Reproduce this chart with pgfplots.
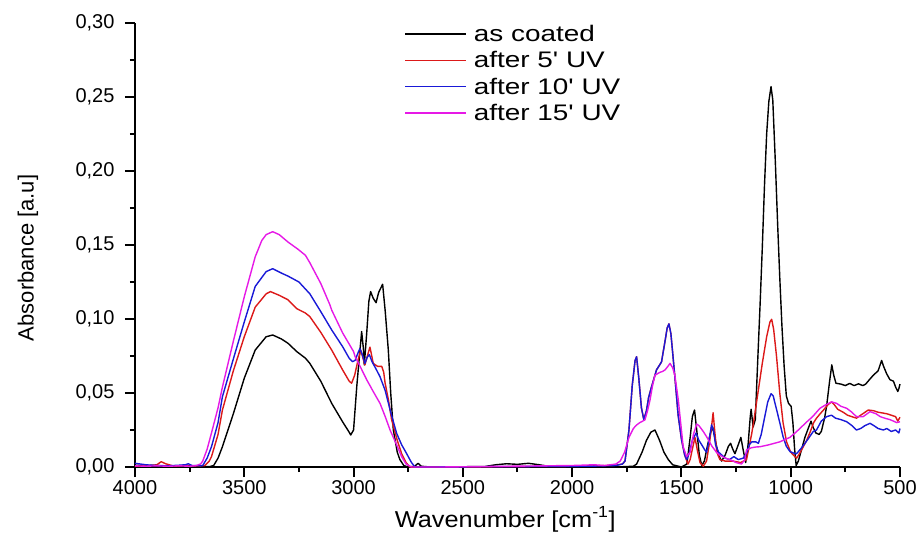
\documentclass[border=0pt]{standalone}
\usepackage{fontspec}
\setmainfont{Liberation Sans}
\newfontfamily\legfont{Liberation Sans}[FakeStretch=1.24, Ligatures=TeXOff]
\newfontfamily\labfont{Liberation Sans}[FakeStretch=1.1]
\usepackage{pgfplots}
\pgfplotsset{compat=1.18}

\definecolor{specred}{RGB}{220,25,25}
\definecolor{specblue}{RGB}{25,25,215}
\definecolor{specmag}{RGB}{230,25,230}

% FTIR spectra: wavenumber (cm^-1) vs absorbance
\pgfplotstableread{
x y
4000 0.0012
3950 0.0008
3900 0.0010
3850 0.0006
3800 0.0008
3750 0.0010
3700 0.0005
3660 0.0002
3640 0.001
3620 0.006
3600 0.0137
3550 0.036
3500 0.060
3450 0.079
3400 0.088
3370 0.0892
3330 0.0865
3300 0.0836
3260 0.078
3220 0.0735
3200 0.070
3150 0.058
3100 0.043
3050 0.0305
3020 0.0235
3013 0.0216
3000 0.025
2985 0.055
2970 0.080
2963 0.0915
2955 0.080
2951 0.069
2940 0.09
2930 0.112
2922 0.1185
2910 0.114
2897 0.111
2885 0.118
2867 0.1235
2855 0.105
2841 0.079
2830 0.050
2818 0.025
2800 0.010
2788 0.005
2770 0.001
2751 0.0
2720 0.0005
2705 0.0025
2690 0.0005
2650 0
2400 0.0003
2350 0.0015
2300 0.0022
2250 0.0018
2200 0.0025
2150 0.0015
2100 0.0003
2000 0.0
1800 0
1720 0.0005
1705 0.002
1680 0.010
1660 0.018
1640 0.0235
1621 0.025
1600 0.018
1580 0.010
1560 0.005
1540 0.0015
1500 0.0
1475 0.002
1460 0.020
1450 0.034
1440 0.0385
1430 0.025
1418 0.008
1407 0.001
1395 0.004
1380 0.015
1365 0.024
1357 0.027
1345 0.018
1330 0.008
1316 0.004
1300 0.008
1285 0.014
1275 0.016
1265 0.012
1255 0.009
1240 0.015
1228 0.020
1218 0.012
1206 0.003
1195 0.015
1185 0.034
1181 0.039
1172 0.027
1162 0.032
1150 0.075
1140 0.11
1130 0.148
1120 0.19
1110 0.225
1100 0.247
1090 0.257
1082 0.248
1070 0.205
1060 0.165
1050 0.128
1040 0.095
1030 0.068
1020 0.048
1010 0.043
998 0.041
990 0.030
982 0.012
975 0.001
965 0.004
950 0.012
935 0.020
920 0.026
907 0.031
898 0.027
885 0.023
870 0.022
860 0.024
845 0.033
835 0.042
822 0.058
812 0.069
803 0.062
793 0.0566
770 0.056
750 0.055
730 0.0565
710 0.055
690 0.0562
670 0.055
657 0.056
640 0.059
622 0.062
600 0.065
584 0.072
575 0.068
561 0.063
546 0.059
530 0.058
520 0.054
510 0.051
505 0.053
500 0.056
}\coated

\pgfplotstableread{
x y
4000 0.0005
3950 0.0008
3900 0.0015
3880 0.0036
3860 0.0022
3820 0.0005
3780 0.0010
3740 0.0005
3700 0.0008
3680 0.001
3660 0.004
3650 0.007
3620 0.022
3600 0.0385
3550 0.065
3500 0.088
3450 0.108
3400 0.117
3380 0.1185
3340 0.116
3300 0.113
3260 0.107
3220 0.104
3200 0.1016
3150 0.091
3100 0.079
3050 0.0656
3020 0.058
3009 0.0566
2995 0.062
2980 0.072
2967 0.079
2958 0.074
2948 0.069
2935 0.076
2925 0.081
2918 0.076
2910 0.070
2890 0.068
2871 0.068
2862 0.064
2856 0.057
2840 0.045
2826 0.032
2800 0.018
2780 0.009
2760 0.003
2742 0.0
2700 0.0
2500 0
2000 0.0005
1900 0.0008
1800 0.0012
1770 0.002
1758 0.004
1740 0.025
1725 0.055
1712 0.072
1705 0.0745
1695 0.060
1683 0.040
1672 0.032
1660 0.038
1650 0.047
1637 0.054
1614 0.0656
1591 0.071
1575 0.085
1565 0.094
1557 0.0967
1548 0.090
1530 0.061
1515 0.035
1499 0.018
1485 0.008
1470 0.002
1460 0.005
1450 0.012
1438 0.020
1428 0.012
1415 0.003
1400 0.0005
1385 0.004
1370 0.018
1360 0.030
1355 0.0367
1348 0.025
1338 0.010
1324 0.005
1300 0.004
1263 0.004
1230 0.003
1202 0.005
1190 0.014
1178 0.0228
1165 0.035
1150 0.050
1130 0.070
1110 0.088
1095 0.098
1087 0.0998
1078 0.093
1065 0.075
1050 0.050
1035 0.030
1019 0.017
1000 0.010
980 0.007
973 0.006
960 0.009
945 0.013
927 0.018
910 0.024
895 0.030
882 0.033
865 0.036
850 0.0385
830 0.042
813 0.044
800 0.042
785 0.039
760 0.037
740 0.035
720 0.034
699 0.033
680 0.035
660 0.037
645 0.0385
620 0.038
600 0.037
580 0.0365
561 0.036
540 0.035
520 0.034
510 0.031
500 0.0336
}\uvfive

\pgfplotstableread{
x y
4000 0.0025
3950 0.0015
3900 0.001
3850 0.0008
3800 0.0012
3770 0.0015
3756 0.0022
3740 0.001
3700 0.0008
3690 0.001
3670 0.006
3650 0.0137
3620 0.030
3600 0.0475
3550 0.073
3500 0.098
3450 0.122
3400 0.132
3370 0.134
3330 0.131
3300 0.129
3250 0.125
3200 0.117
3150 0.105
3100 0.0926
3050 0.0813
3020 0.0735
3005 0.0712
2993 0.072
2980 0.077
2971 0.080
2960 0.076
2948 0.070
2938 0.074
2928 0.076
2915 0.071
2900 0.067
2879 0.061
2856 0.052
2830 0.037
2803 0.0228
2780 0.015
2757 0.009
2735 0.003
2719 0.0
2650 0.0
2400 0.0002
2000 0.0004
1900 0.0006
1800 0.001
1770 0.002
1758 0.004
1740 0.025
1725 0.055
1712 0.072
1705 0.0745
1695 0.060
1683 0.040
1672 0.032
1660 0.038
1650 0.047
1637 0.054
1614 0.0656
1591 0.071
1575 0.085
1565 0.094
1557 0.0967
1548 0.090
1530 0.061
1515 0.035
1499 0.018
1485 0.008
1476 0.005
1465 0.009
1450 0.018
1433 0.023
1420 0.018
1407 0.015
1395 0.012
1385 0.010
1375 0.017
1362 0.0285
1352 0.024
1344 0.015
1330 0.010
1322 0.009
1300 0.006
1280 0.005
1260 0.007
1240 0.005
1217 0.006
1200 0.010
1190 0.015
1178 0.017
1160 0.017
1148 0.016
1135 0.022
1120 0.033
1105 0.044
1090 0.0495
1080 0.048
1065 0.039
1050 0.030
1035 0.0205
1020 0.014
1003 0.0104
980 0.009
973 0.009
950 0.013
920 0.019
897 0.024
882 0.025
860 0.031
836 0.034
813 0.035
795 0.033
770 0.032
744 0.0306
720 0.028
699 0.025
680 0.026
660 0.028
637 0.0295
620 0.028
600 0.026
576 0.025
560 0.026
540 0.024
520 0.025
505 0.023
500 0.026
}\uvten

\pgfplotstableread{
x y
4000 0.0008
3950 0.0005
3900 0.0008
3850 0.0005
3800 0.0008
3750 0.0005
3720 0.0010
3700 0.002
3690 0.004
3670 0.012
3650 0.023
3620 0.040
3600 0.054
3550 0.085
3500 0.115
3450 0.142
3420 0.153
3400 0.157
3370 0.159
3340 0.157
3300 0.152
3253 0.147
3220 0.143
3200 0.138
3150 0.124
3108 0.1095
3100 0.106
3050 0.0906
3000 0.078
2993 0.0746
2970 0.068
2940 0.059
2910 0.051
2879 0.043
2855 0.034
2833 0.025
2800 0.014
2780 0.007
2760 0.002
2735 0.0
2600 0
2000 0.001
1900 0.0015
1850 0.001
1800 0.002
1780 0.004
1760 0.010
1740 0.020
1720 0.026
1705 0.0284
1690 0.030
1667 0.0318
1655 0.038
1644 0.045
1632 0.055
1621 0.062
1610 0.063
1598 0.064
1587 0.0645
1575 0.0656
1562 0.068
1552 0.070
1540 0.067
1530 0.062
1514 0.045
1500 0.025
1492 0.0137
1476 0.007
1460 0.010
1445 0.022
1430 0.029
1420 0.028
1400 0.024
1385 0.0205
1360 0.014
1340 0.010
1324 0.008
1300 0.006
1278 0.005
1250 0.003
1225 0.002
1210 0.005
1202 0.0115
1180 0.013
1160 0.0135
1140 0.0137
1100 0.015
1050 0.017
1004 0.020
980 0.023
958 0.026
930 0.030
900 0.034
866 0.0397
840 0.042
813 0.044
790 0.043
770 0.041
744 0.0397
720 0.037
699 0.034
669 0.034
650 0.036
637 0.0374
610 0.036
590 0.034
570 0.033
546 0.032
530 0.031
515 0.030
500 0.0306
}\uvfifteen

\begin{document}
\begin{tikzpicture}
\path[use as bounding box] (-135pt,-71pt) rectangle (789pt,467pt);
\begin{axis}[
  scale only axis, width=765pt, height=444pt,
  x dir=reverse,
  xmin=500, xmax=4000, ymin=0, ymax=0.30,
  axis x line*=bottom, axis y line*=left,
  axis line style={line width=2pt},
  xtick={500,1000,1500,2000,2500,3000,3500,4000},
  ytick={0,0.05,0.1,0.15,0.2,0.25,0.3},
  minor x tick num=1, minor y tick num=1,
  tick align=outside,
  major tick length=10pt, minor tick length=5pt,
  every tick/.style={black, line width=2pt},
  scaled ticks=false,
  /pgf/number format/assume math mode=true,
  xticklabel={\pgfmathprintnumber[fixed,precision=0,1000 sep={}]{\tick}},
  yticklabel={\pgfmathprintnumber[fixed,fixed zerofill,precision=2,use comma]{\tick}},
  ticklabel style={font=\fontsize{20}{24}\selectfont},
  yticklabel style={xshift=-7pt},
  xlabel={\labfont Wavenumber [cm\textsuperscript{-1}]},
  ylabel={Absorbance [a.u]},
  x label style={font=\fontsize{23}{27}\selectfont,
    at={(axis description cs:0.484,0)}, anchor=base, yshift=-60pt},
  y label style={font=\fontsize{22}{26}\selectfont,
    at={(axis description cs:-0.14,0.471)}, anchor=center},
  clip=false,
  legend image code/.code={%
    \path (0pt,4pt) (66pt,0pt);
    \draw[#1] (0pt,0pt) -- (61pt,0pt);},
  legend cell align=left,
  legend style={draw=none, fill=none, at={(axis description cs:0.352,1.0)},
    anchor=north west, font=\legfont\fontsize{22.5}{26}\selectfont,
    row sep=4.5pt, inner sep=0pt},
  every axis plot/.append style={line width=1.4pt, line join=round},
]
\addplot[black] table {\coated};
\addlegendentry{as coated}
\addplot[specred] table {\uvfive};
\addlegendentry{after 5' UV}
\addplot[specblue] table {\uvten};
\addlegendentry{after 10' UV}
\addplot[specmag] table {\uvfifteen};
\addlegendentry{after 15' UV}
\end{axis}
\end{tikzpicture}
\end{document}
